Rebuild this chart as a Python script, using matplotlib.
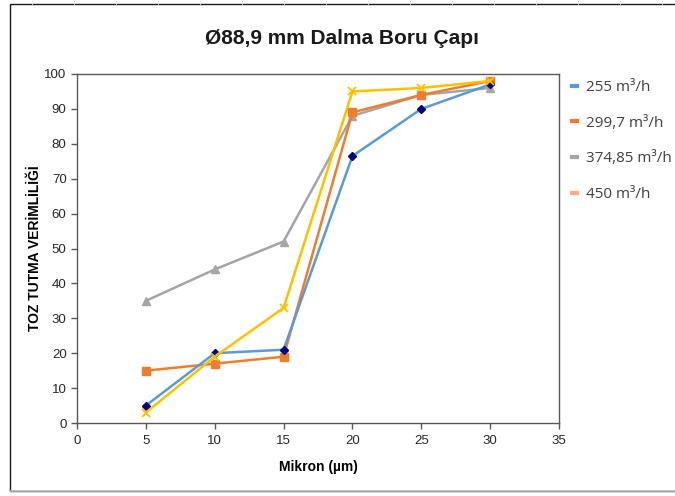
import matplotlib
matplotlib.use("Agg")
import matplotlib.pyplot as plt
from matplotlib.lines import Line2D
from matplotlib.patches import Rectangle

# Particle size (micron) and dust capture efficiency (%) per flow rate
mikron = [5, 10, 15, 20, 25, 30]
eff_255 = [5, 20, 21, 76.5, 90, 97]
eff_299 = [15, 17, 19, 89, 94, 98]
eff_374 = [35, 44, 52, 88, 94, 96]
eff_450 = [3, 19, 33, 95, 96, 98]

series_labels = ["255 m³/h", "299,7 m³/h", "374,85 m³/h", "450 m³/h"]
x_ticks = [0, 5, 10, 15, 20, 25, 30, 35]
y_ticks = [0, 10, 20, 30, 40, 50, 60, 70, 80, 90, 100]

W, H = 675, 496
fig = plt.figure(figsize=(W / 100, H / 100), dpi=100)
fig.patch.set_facecolor("white")

# Sheet cell lines peeking above the chart frame
for gx in range(32, W, 42):
    fig.add_artist(Line2D([gx / W, gx / W], [1 - 4 / H, 1], transform=fig.transFigure,
                          color="#e3e3e3", lw=0.6))

# Chart frame
fig.add_artist(Rectangle((10 / W, 1 - 491 / H), 1.0, (491 - 4) / H, transform=fig.transFigure,
                         fill=False, edgecolor="#1a1a1a", lw=1.0))
fig.add_artist(Line2D([10 / W, 1], [1 - 491 / H, 1 - 491 / H], transform=fig.transFigure,
                      color="#bfbfbf", lw=1.2))

left, right, top, bottom = 77, 559, 74, 423
ax = fig.add_axes([left / W, 1 - bottom / H, (right - left) / W, (bottom - top) / H])

ax.plot(mikron, eff_255, color="#5B9BD5", lw=1.8, marker="D", ms=4,
        markerfacecolor="#000080", markeredgecolor="#000080", zorder=5)
ax.plot(mikron, eff_299, color="#ED7D31", lw=1.8, marker="s", ms=6,
        markerfacecolor="#ED7D31", markeredgecolor="#ED7D31", zorder=4)
ax.plot(mikron, eff_374, color="#A5A5A5", lw=1.8, marker="^", ms=6,
        markerfacecolor="#A5A5A5", markeredgecolor="#A5A5A5", zorder=3)
ax.plot(mikron, eff_450, color="#FFC000", lw=1.8, marker="x", ms=6, mew=1.3,
        markeredgecolor="#FFC000", zorder=6)

ax.set_xlim(0, 35)
ax.set_ylim(0, 100)
ax.set_xticks(x_ticks)
ax.set_yticks(y_ticks)
for s in ax.spines.values():
    s.set_color("#595959")
    s.set_linewidth(1.0)
ax.tick_params(axis="both", direction="out", length=4, width=1, color="#595959",
               labelsize=9.5, labelcolor="#262626")
ax.tick_params(axis="x", pad=5)
for lab in ax.get_xticklabels() + ax.get_yticklabels():
    lab.set_fontfamily("Liberation Sans")

ax.set_xlabel("Mikron (µm)", fontsize=10, fontweight="bold", family="Liberation Sans",
              labelpad=9)
ax.set_ylabel("TOZ TUTMA VERİMLİLİĞİ", fontsize=10, fontweight="bold",
              family="Liberation Sans", labelpad=2)

fig.text(342 / W, 1 - 38 / H, "Ø88,9 mm Dalma Boru Çapı", ha="center", va="center",
         fontsize=15, fontweight="bold", family="Liberation Sans", color="#1a1a1a")

# Legend with short dash swatches
legend_colors = ["#5B9BD5", "#ED7D31", "#A5A5A5", "#F4B183"]
handles = [Line2D([0], [0], color=c, lw=3) for c in legend_colors]
leg = fig.legend(handles, series_labels, loc="upper left",
                 bbox_to_anchor=(566 / W, 1 - 74 / H), frameon=False,
                 handlelength=0.35, handletextpad=0.55, labelspacing=1.35,
                 prop={"family": "Open Sans", "size": 11}, borderaxespad=0)
for t in leg.get_texts():
    t.set_color("#404040")

fig.savefig("out.png", dpi=100)
